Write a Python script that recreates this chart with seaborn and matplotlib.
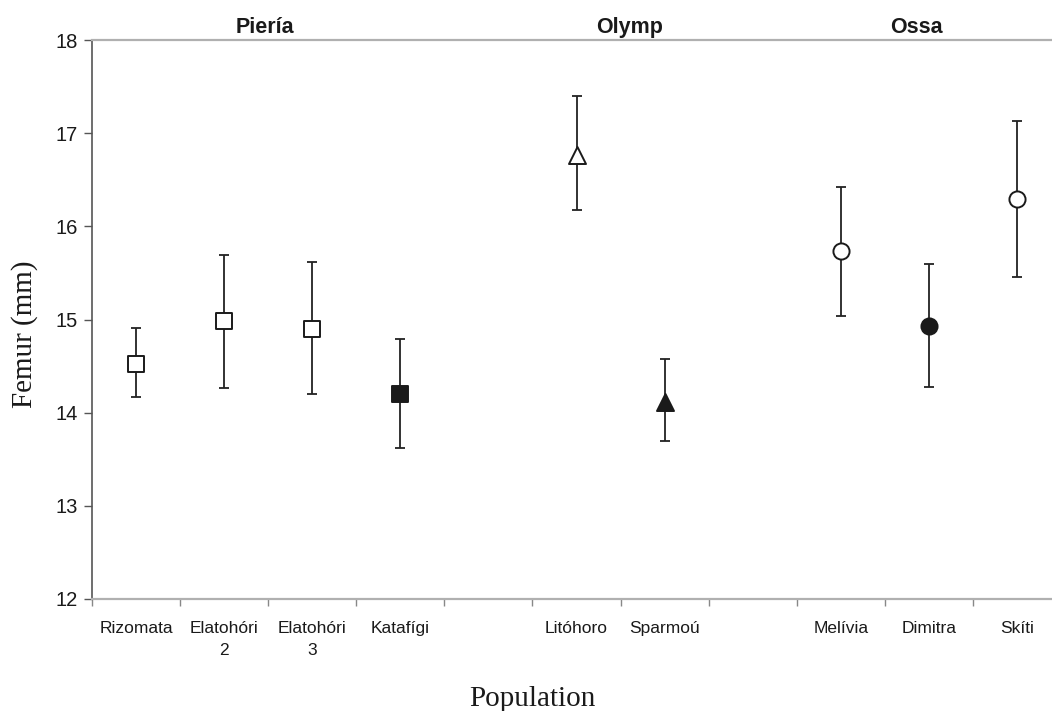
import numpy as np
import pandas as pd
import matplotlib
matplotlib.use("Agg")
import matplotlib.pyplot as plt
import matplotlib.transforms as mtransforms
import seaborn as sns

sns.set_theme(style="white")
plt.rcParams['font.family'] = ['Liberation Sans', 'DejaVu Sans']

# datos
populations = ['Rizomata', 'Elatohóri\n2', 'Elatohóri\n3', 'Katafígi',
               'Litóhoro', 'Sparmoú', 'Melívia', 'Dimitra', 'Skíti']
slot = [0, 1, 2, 3, 5, 6, 8, 9, 10]
region = ['Piería', 'Piería', 'Piería', 'Piería', 'Olymp', 'Olymp', 'Ossa', 'Ossa', 'Ossa']
filled = [False, False, False, True, False, True, False, True, False]
femur = [14.52, 14.98, 14.90, 14.20, 16.77, 14.11, 15.74, 14.93, 16.29]
upper = [14.91, 15.69, 15.62, 14.79, 17.40, 14.58, 16.42, 15.60, 17.13]
lower = [14.17, 14.27, 14.20, 13.62, 16.18, 13.70, 15.04, 14.28, 15.46]
region_names = ['Piería', 'Olymp', 'Ossa']
region_x = [1.46, 5.6, 8.86]

df = pd.DataFrame({'pop': populations, 'x': slot, 'region': region,
                   'filled': filled, 'femur': femur, 'up': upper, 'lo': lower})

fig = plt.figure(figsize=(10.52, 7.11), dpi=100)
ax = fig.add_axes([92/1052, 1-599/711, (1061-92)/1052, (599-40)/711])

# barras de error
yerr = np.array([df['femur'] - df['lo'], df['up'] - df['femur']])
ax.errorbar(df['x'], df['femur'], yerr=yerr, fmt='none', ecolor='#222222',
            elinewidth=1.3, capsize=3.7, capthick=1.3, zorder=2)

# marcadores
markers = {'Piería': 's', 'Olymp': '^', 'Ossa': 'o'}
sizes = {'Piería': 125, 'Olymp': 150, 'Ossa': 135}
for is_filled, face in [(False, 'white'), (True, '#1a1a1a')]:
    sub = df[df['filled'] == is_filled]
    for reg in region_names:
        s = sub[sub['region'] == reg]
        sns.scatterplot(data=s, x='x', y='femur', marker=markers[reg], s=sizes[reg],
                        color=face, edgecolor='#1a1a1a', linewidth=1.4, ax=ax,
                        zorder=3, legend=False)

ax.set_xlim(-0.5, 10.5)
ax.set_ylim(12, 18)
ax.set_yticks(range(12, 19))
ax.set_xticks(np.arange(-0.5, 11, 1))
ax.set_xticklabels([])
ax.set_xticks(df['x'], labels=df['pop'], minor=True)
for lab in ax.get_xticklabels(minor=True):
    lab.set_linespacing(1.55)
ax.tick_params(axis='x', which='major', direction='out', length=5, width=1,
               color='#888888', bottom=True)
ax.tick_params(axis='x', which='minor', length=0, labelsize=12.5, pad=16,
               labelcolor='#1a1a1a')
ax.tick_params(axis='y', direction='out', length=6, width=1, color='#555555',
               left=True, labelsize=14.5, labelcolor='#1a1a1a', pad=4)

ax.spines['right'].set_visible(False)
ax.spines['left'].set_color('#555555')
ax.spines['left'].set_linewidth(1.2)
for side in ['top', 'bottom']:
    ax.spines[side].set_color('#b0b0b0')
    ax.spines[side].set_linewidth(1.6)

ax.set_xlabel('')
ax.set_ylabel('')

trans = mtransforms.blended_transform_factory(ax.transData, ax.transAxes)
for name, xr in zip(region_names, region_x):
    ax.text(xr, 1.023, name, transform=trans, ha='center', va='center',
            fontsize=15.5, fontweight='bold', color='#1a1a1a')

fig.text(25/1052, 1-334/711, 'Femur (mm)', rotation=90, ha='center', va='center',
         fontsize=21, family='Liberation Serif', color='#1a1a1a')
fig.text(532/1052, 1-699/711, 'Population', ha='center', va='center',
         fontsize=21, family='Liberation Serif', color='#1a1a1a')

fig.savefig('out.png', dpi=100)
